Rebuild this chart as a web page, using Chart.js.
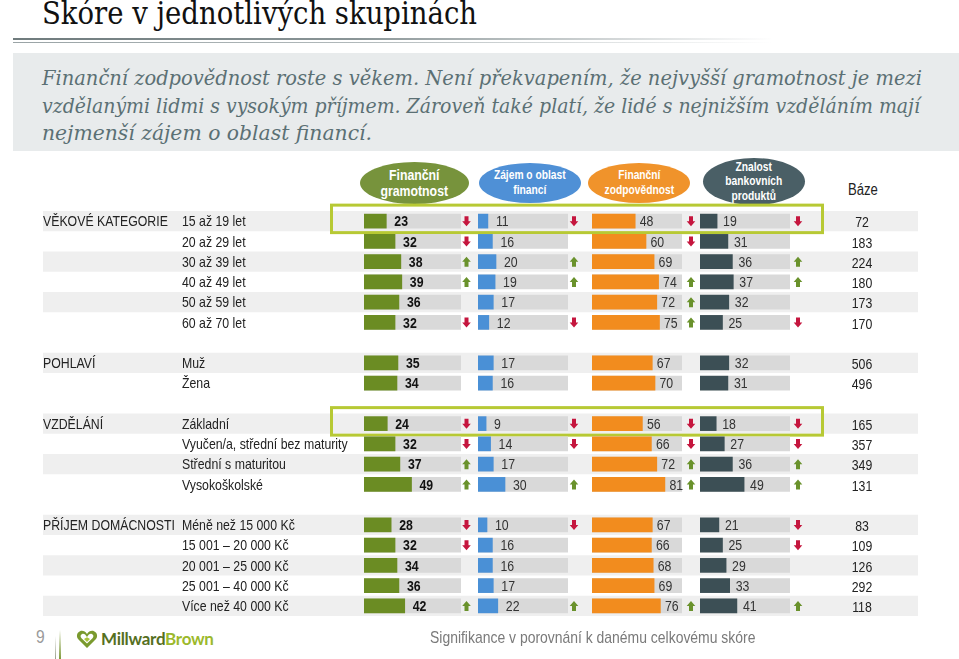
<!DOCTYPE html>
<html><head><meta charset="utf-8">
<script src="https://cdn.jsdelivr.net/npm/chart.js@4.4.0/dist/chart.umd.min.js"></script>
<style>
html,body{margin:0;padding:0;background:#fff;}
body{width:959px;height:659px;overflow:hidden;position:relative;font-family:"Liberation Sans",Arial,sans-serif;}
.abs{position:absolute;white-space:nowrap;}
.n{display:inline-block;transform:scaleX(.82);transform-origin:left center;}
.nc{display:inline-block;transform:scaleX(.82);transform-origin:center center;}
#title{left:42px;top:-5px;font-family:"DejaVu Serif",serif;font-size:31px;color:#111;transform-origin:left top;}
#rule1{left:13px;top:38px;width:760px;height:2px;background:linear-gradient(to right,#6f7b7d 0%,#8a9597 45%,rgba(150,160,162,0) 100%);}
#rule2{left:13px;top:42px;width:760px;height:1px;background:linear-gradient(to right,#9aa4a6 0%,#b0b8ba 45%,rgba(180,188,190,0) 100%);}
#introbox{left:13px;top:53px;width:946px;height:98px;background:#e8ebec;}
.intro{left:42px;font-family:"DejaVu Serif",serif;font-style:italic;font-size:20px;color:#5b7074;transform-origin:left top;}
.ell{position:absolute;border-radius:50%;color:#fff;font-weight:bold;display:flex;align-items:center;justify-content:center;text-align:center;}
canvas{position:absolute;}
</style>
</head>
<body>
<div id="title" class="abs">Skóre v jednotlivých skupinách</div>
<div id="rule1" class="abs"></div>
<div id="rule2" class="abs"></div>
<div id="introbox" class="abs"></div>
<div class="abs intro" id="l1" style="top:66px">Finanční zodpovědnost roste s věkem. Není překvapením, že nejvyšší gramotnost je mezi</div>
<div class="abs intro" id="l2" style="top:94px">vzdělanými lidmi s vysokým příjmem. Zároveň také platí, že lidé s nejnižším vzděláním mají</div>
<div class="abs intro" id="l3" style="top:121px">nejmenší zájem o oblast financí.</div>

<div class="ell" style="left:360px;top:162px;width:109px;height:42px;background:#77933c;font-size:15px;line-height:16px;"><span class="nc">Finanční<br>gramotnost</span></div>
<div class="ell" style="left:479px;top:163px;width:102px;height:40px;background:#4f90d6;font-size:12.5px;line-height:15px;"><span class="nc">Zájem o oblast<br>financí</span></div>
<div class="ell" style="left:588px;top:163px;width:102px;height:40px;background:#f0932b;font-size:12.5px;line-height:15px;"><span class="nc">Finanční<br>zodpovědnost</span></div>
<div class="ell" style="left:703px;top:158px;width:102px;height:47px;background:#4a5f66;font-size:12.5px;line-height:14.5px;"><span class="nc">Znalost<br>bankovních<br>produktů</span></div>
<div class="abs" style="left:848px;top:181px;font-size:16px;color:#222;"><span class="n">Báze</span></div>

<canvas id="bg" width="959" height="425" style="left:0;top:200px;"></canvas>
<canvas id="c1" width="111" height="405" style="left:364px;top:211px;"></canvas>
<canvas id="c2" width="104" height="405" style="left:478px;top:211px;"></canvas>
<canvas id="c3" width="104" height="405" style="left:592px;top:211px;"></canvas>
<canvas id="c4" width="104" height="405" style="left:700px;top:211px;"></canvas>

<div class="abs" style="left:36px;top:626px;font-size:19px;color:#9a9a9a;"><span class="n">9</span></div>
<div class="abs" style="left:55px;top:636px;width:1px;height:23px;background:linear-gradient(#fff,#9aa08a);"></div>
<div class="abs" style="left:59px;top:630px;width:2px;height:29px;background:linear-gradient(#fff,#7f9a3a);"></div>
<svg class="abs" style="left:76px;top:630px;" width="22" height="19" viewBox="0 0 22 19">
 <path d="M11 18 L2.5 9.5 C0 7 0.5 2.5 4 1.2 C6.8 0.2 9.2 1.5 11 4 C12.8 1.5 15.2 0.2 18 1.2 C21.5 2.5 22 7 19.5 9.5 Z" fill="#7a9a2e"/>
 <path d="M11 13.5 L5.5 8.2 C4 6.7 4.4 4.5 6.2 3.9 C7.9 3.3 9.6 4.6 11 7 C12.4 4.6 14.1 3.3 15.8 3.9 C17.6 4.5 18 6.7 16.5 8.2 Z" fill="#fff"/>
 <path d="M11 12 L8 9 L11 7.2 L14 9 Z" fill="#a9c43a"/>
</svg>
<div class="abs" style="left:101px;top:628px;font-family:Lato,'Open Sans',sans-serif;font-weight:bold;font-size:17px;letter-spacing:-0.3px;"><span style="color:#56701f">Millward</span><span style="color:#9cb92c">Brown</span></div>
<div class="abs" style="left:430px;top:628px;font-size:17px;color:#7a7a7a;"><span class="n">Signifikance v porovnání k danému celkovému skóre</span></div>

<script>
// ---------- DATA ----------
const categories = ['15 až 19 let','20 až 29 let','30 až 39 let','40 až 49 let','50 až 59 let','60 až 70 let','',
  'Muž','Žena','',
  'Základní','Vyučen/a, střední bez maturity','Střední s maturitou','Vysokoškolské','',
  'Méně než 15 000 Kč','15 001 – 20 000 Kč','20 001 – 25 000 Kč','25 001 – 40 000 Kč','Více než 40 000 Kč'];
const groupLabels = ['VĚKOVÉ KATEGORIE','','','','','','','POHLAVÍ','','','VZDĚLÁNÍ','','','','','PŘÍJEM DOMÁCNOSTI','','','',''];
const gramotnost   = [23,32,38,39,36,32,null,35,34,null,24,32,37,49,null,28,32,34,36,42];
const zajem        = [11,16,20,19,17,12,null,17,16,null, 9,14,17,30,null,10,16,16,17,22];
const zodpovednost = [48,60,69,74,72,75,null,67,70,null,56,66,72,81,null,67,66,68,69,76];
const znalost      = [19,31,36,37,32,25,null,32,31,null,18,27,36,49,null,21,25,29,33,41];
const baze         = [72,183,224,180,173,170,null,506,496,null,165,357,349,131,null,83,109,126,292,118];
// significance vs. total score: 1 = higher, -1 = lower, 0 = none
const sigGramotnost   = [-1,-1,1,1,0,-1,null,0,0,null,-1,-1,1,1,null,-1,-1,0,0,1];
const sigZajem        = [-1,0,1,1,0,-1,null,0,0,null,-1,-1,0,1,null,-1,0,0,0,1];
const sigZodpovednost = [-1,-1,0,1,1,1,null,0,0,null,-1,-1,1,1,null,0,0,0,0,1];
const sigZnalost      = [-1,0,1,1,0,-1,null,0,0,null,-1,-1,1,1,null,-1,-1,0,0,1];
const highlightedRows = [0,10];
const scaleMax = 100;

// ---------- fit serif texts ----------
function fit(id, target){const el=document.getElementById(id);const w=el.getBoundingClientRect().width;el.style.transform='scaleX('+(target/w)+')';}
fit('title',435); fit('l1',880); fit('l2',878); fit('l3',330);

const SANS = '"Liberation Sans",Arial,sans-serif';
const SQ = 0.82;
function narrowText(ctx,text,x,y,align){
  ctx.save();ctx.translate(x,y);ctx.scale(SQ,1);ctx.textAlign=align;ctx.fillText(text,0,0);ctx.restore();
}

// ---------- background / labels chart ----------
const bgPlugin = {
  id:'bgPlugin',
  beforeDatasetsDraw(chart){
    const ctx=chart.ctx, y=chart.scales.y;
    const step = y.getPixelForValue(1)-y.getPixelForValue(0);
    let k=0;
    ctx.save();
    categories.forEach((c,i)=>{
      if(c===''){k=0;return;}
      const yc=y.getPixelForValue(i);
      if(k%2===0){ctx.fillStyle='#efefef';ctx.fillRect(43,yc-step/2,875,step);}
      k++;
    });
    ctx.fillStyle='#222';ctx.textBaseline='middle';
    ctx.font='15px '+SANS;
    categories.forEach((c,i)=>{
      if(c==='')return;
      const yc=y.getPixelForValue(i)+1;
      if(groupLabels[i]) narrowText(ctx,groupLabels[i],43,yc,'left');
      narrowText(ctx,c,182,yc,'left');
      narrowText(ctx,String(baze[i]),862,yc+1,'center');
    });
    ctx.strokeStyle='#b7c934';ctx.lineWidth=3;
    highlightedRows.forEach(i=>{
      const yc=y.getPixelForValue(i);
      ctx.strokeRect(331.5,yc-16,491,27.5);
    });
    ctx.restore();
  }
};
new Chart(document.getElementById('bg'),{
  type:'bar',
  data:{labels:categories,datasets:[{data:baze.map(()=>null)}]},
  options:{indexAxis:'y',responsive:false,animation:false,events:[],
    layout:{padding:{left:0,right:0,top:11,bottom:9}},
    scales:{x:{display:false,min:0,max:scaleMax},y:{display:false}},
    plugins:{legend:{display:false},tooltip:{enabled:false}}},
  plugins:[bgPlugin]
});

// ---------- bar charts ----------
function drawArrow(ctx,cx,cy,dir){
  ctx.save();
  ctx.fillStyle = dir<0 ? '#c5163e' : '#6a922c';
  ctx.translate(cx,cy);
  if(dir>0) ctx.scale(1,-1);
  ctx.beginPath();
  ctx.moveTo(-2,-5);ctx.lineTo(2,-5);ctx.lineTo(2,0);ctx.lineTo(4.3,0);
  ctx.lineTo(0,5);ctx.lineTo(-4.3,0);ctx.lineTo(-2,0);ctx.closePath();ctx.fill();
  ctx.restore();
}
function barChart(id, values, sig, color, pad, labelGap, arrowOff, bold){
  const labelPlugin={
    id:'lbl'+id,
    afterDatasetsDraw(chart){
      const ctx=chart.ctx, meta=chart.getDatasetMeta(0);
      ctx.save();
      ctx.font=(bold?'bold ':'')+'15px '+SANS;
      ctx.fillStyle=bold?'#111':'#333';
      ctx.textBaseline='middle';
      values.forEach((v,i)=>{
        if(v==null)return;
        const el=meta.data[i];
        narrowText(ctx,String(v),el.x+labelGap,el.y+1,'left');
        if(sig[i]) drawArrow(ctx,chart.chartArea.right+arrowOff,el.y,sig[i]);
      });
      ctx.restore();
    }
  };
  new Chart(document.getElementById(id),{
    type:'bar',
    data:{labels:categories,datasets:[
      {data:values,backgroundColor:color,grouped:false,order:1,barThickness:14,borderWidth:0},
      {data:values.map(v=>v==null?null:scaleMax),backgroundColor:'#d9d9d9',grouped:false,order:2,barThickness:14,borderWidth:0}
    ]},
    options:{indexAxis:'y',responsive:false,animation:false,events:[],
      layout:{padding:{left:0,right:pad,top:0,bottom:0}},
      scales:{x:{display:false,min:0,max:scaleMax},y:{display:false}},
      plugins:{legend:{display:false},tooltip:{enabled:false}}},
    plugins:[labelPlugin]
  });
}
barChart('c1',gramotnost,sigGramotnost,'#6b8c23',14,8,5.5,true);
barChart('c2',zajem,sigZajem,'#4a90d6',14,8,6,false);
barChart('c3',zodpovednost,sigZodpovednost,'#f28c1e',14,4.5,9,false);
barChart('c4',znalost,sigZnalost,'#3c4f55',14,6,8,false);
</script>
</body></html>
